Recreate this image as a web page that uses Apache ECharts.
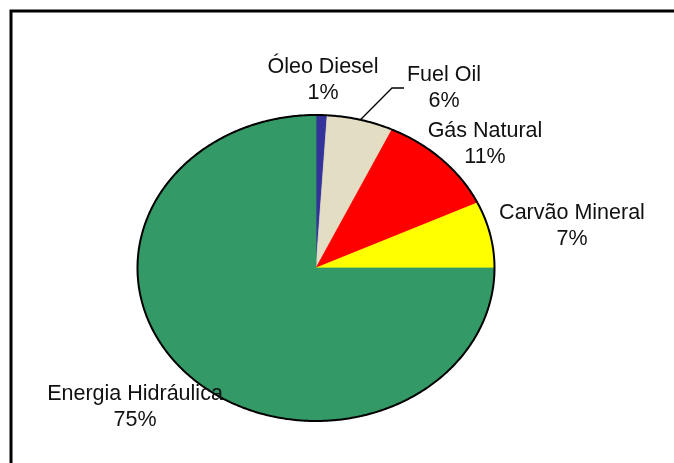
<!DOCTYPE html>
<html>
<head>
<meta charset="utf-8">
<script src="https://cdn.jsdelivr.net/npm/echarts@6/dist/echarts.min.js"></script>
<style>
html, body { margin: 0; padding: 0; background: #fff; }
#main { width: 674px; height: 463px; }
</style>
</head>
<body>
<div id="main"></div>
<script>
var categories = ['Óleo Diesel', 'Fuel Oil', 'Gás Natural', 'Carvão Mineral', 'Energia Hidráulica'];
var shares = [1, 6, 11, 7, 75];
var colors = ['#333399', '#E2DDC3', '#FF0000', '#FFFF00', '#339966'];

// layout of the (stretched) pie
var cx = 316, cy = 268, rx = 178.5, ry = 153;
var labelPos = [[323, 80.5], [444, 88.5], [485, 144], [572, 226], [135, 407.5]];

var total = shares.reduce(function (a, b) { return a + b; }, 0);

function renderItem(params, api) {
    var i = params.dataIndex;
    var before = 0;
    for (var k = 0; k < i; k++) before += shares[k];
    var v = api.value(0);
    var a0 = before / total * 2 * Math.PI;
    var a1 = (before + v) / total * 2 * Math.PI;
    var n = Math.max(2, Math.ceil((a1 - a0) / 0.01));
    var arc = [];
    for (var j = 0; j <= n; j++) {
        var t = a0 + (a1 - a0) * j / n;
        arc.push([cx + rx * Math.sin(t), cy - ry * Math.cos(t)]);
    }
    var children = [
        {
            type: 'polygon',
            shape: { points: [[cx, cy]].concat(arc) },
            style: { fill: colors[i], stroke: colors[i], lineWidth: 0.8 },
            z2: 1
        },
        {
            type: 'polyline',
            shape: { points: arc },
            style: { fill: null, stroke: '#000', lineWidth: 2 },
            z2: 5
        },
        {
            type: 'text',
            x: labelPos[i][0],
            y: labelPos[i][1],
            style: {
                text: categories[i] + '\n' + Math.round(v / total * 100) + '%',
                x: 0,
                y: 0,
                align: 'center',
                verticalAlign: 'middle',
                fontFamily: '"Liberation Sans", Arial, sans-serif',
                fontSize: 21.5,
                lineHeight: 26,
                fill: '#111'
            },
            z2: 10
        }
    ];
    // leader line only for Fuel Oil
    if (i === 1) {
        var m = (a0 + a1) / 2;
        children.push({
            type: 'polyline',
            shape: { points: [[cx + rx * Math.sin(m), cy - ry * Math.cos(m)], [392, 88], [404, 88]] },
            style: { fill: null, stroke: '#000', lineWidth: 1.3 },
            z2: 6
        });
    }
    return { type: 'group', children: children };
}

var option = {
    animation: false,
    graphic: [{
        type: 'rect',
        shape: { x: 11, y: 11, width: 720, height: 520 },
        style: { fill: null, stroke: '#000', lineWidth: 3 }
    }],
    series: [{
        type: 'custom',
        coordinateSystem: 'none',
        silent: true,
        renderItem: renderItem,
        data: shares
    }]
};

var myChart = echarts.init(document.getElementById('main'));
myChart.setOption(option);
</script>
</body>
</html>
